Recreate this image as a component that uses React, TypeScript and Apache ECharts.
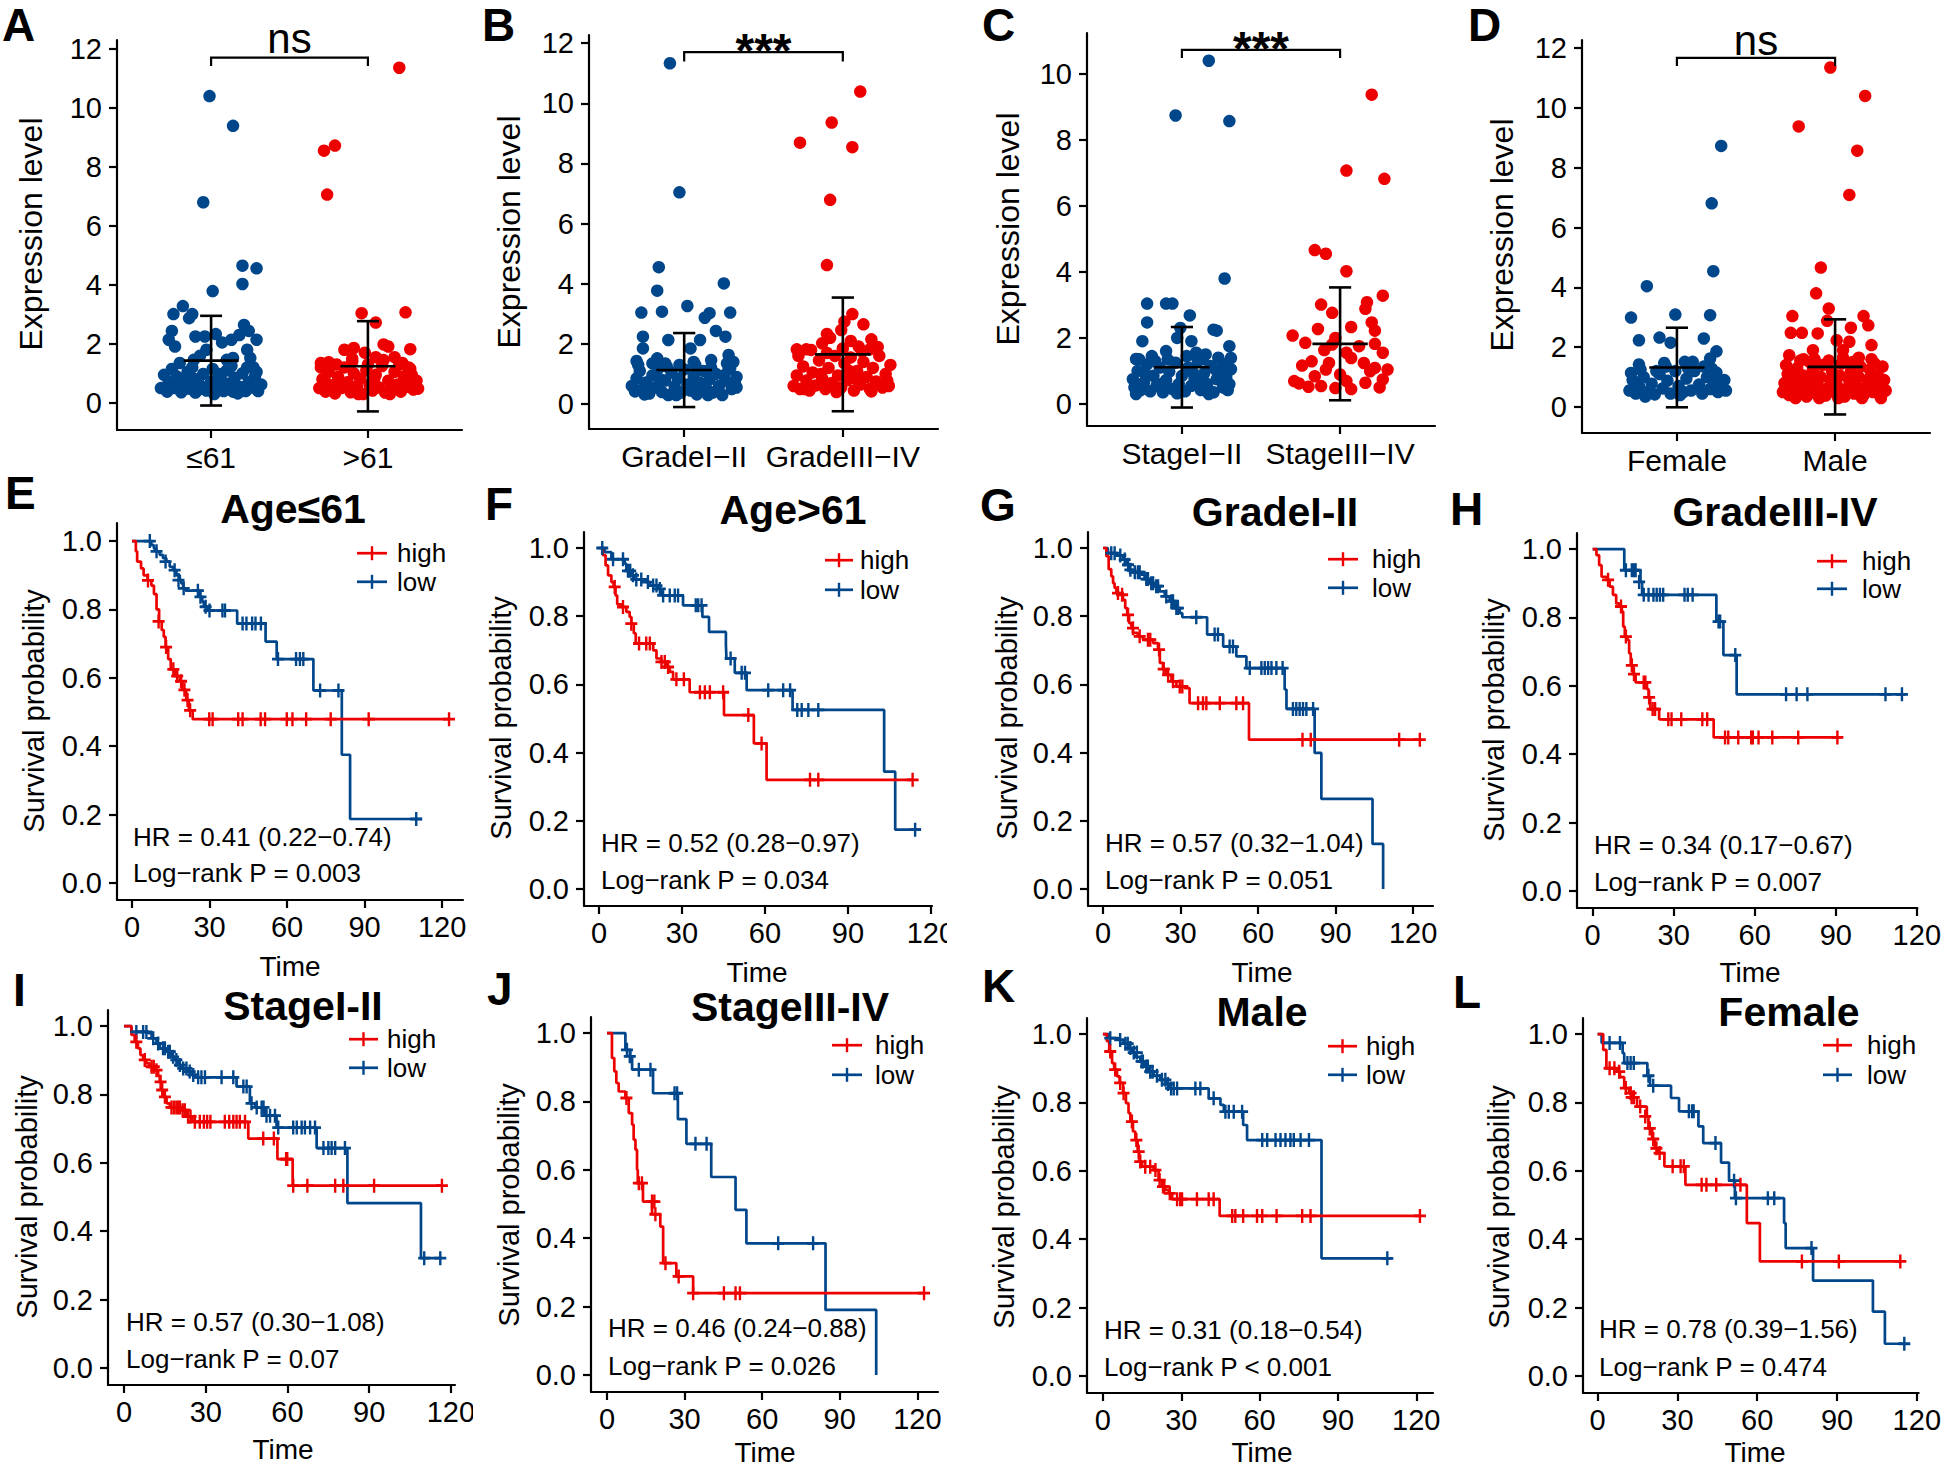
import React, { useEffect, useRef } from "react";
import * as echarts from "echarts";

const FONT = "'Liberation Sans', Arial, Helvetica, sans-serif";
const BLUE = "#00468B";
const RED = "#ED0000";
const BLACK = "#000000";

// ================= DATA: expression scatter panels =================
const CATS_A = ["≤61", ">61"];
const CATS_B = ["GradeI−II", "GradeIII−IV"];
const CATS_C = ["StageI−II", "StageIII−IV"];
const CATS_D = ["Female", "Male"];
const SIG_LABELS = ["ns", "***", "***", "ns"];
const Y_TICKS_A = [0, 2, 4, 6, 8, 10, 12];
const Y_TICKS_C = [0, 2, 4, 6, 8, 10];

// [jitter offset from category centre, expression level]
const A_LOW = [
  [-0.01, 10.4], [0.14, 9.39], [-0.05, 6.8], [0.2, 4.65], [0.29, 4.56], [0.2, 4.03], [0.01, 3.79],
  [-0.18, 3.28], [-0.24, 3.01], [-0.12, 3.01], [-0.14, 2.87], [0.21, 2.64], [0.24, 2.44], [-0.25, 2.44],
  [0.03, 2.33], [-0.1, 2.25], [-0.04, 2.25], [-0.27, 2.14], [0.29, 2.14], [0.13, 2.14], [0.07, 2.05],
  [-0.23, 1.91], [0.23, 1.8], [-0.03, 1.8], [-0.11, 1.46], [-0.2, 1.35], [0.14, 1.52], [0.25, 1.52],
  [0.1, 1.46], [0.18, 2.3], [-0.07, 1.6], [0.27, 1.2],
  [-0.32, 0.5], [-0.28, 0.38], [-0.27, 0.7], [-0.23, 0.5], [-0.22, 0.9], [-0.19, 0.36], [-0.18, 0.68],
  [-0.15, 1.05], [-0.14, 0.48], [-0.11, 0.82], [-0.1, 0.35], [-0.07, 0.6], [-0.05, 0.98], [-0.03, 0.42],
  [0, 0.72], [0.02, 0.3], [0.04, 0.55], [0.06, 0.9], [0.08, 0.4], [0.1, 1.1], [0.11, 0.65], [0.14, 0.38],
  [0.15, 0.85], [0.18, 0.55], [0.2, 1.0], [0.22, 0.4], [0.24, 0.7], [0.26, 0.52], [0.28, 0.9], [0.3, 0.4],
  [0.32, 0.62], [-0.3, 0.95], [-0.25, 1.15], [-0.2, 0.62], [-0.12, 1.2], [-0.08, 0.45], [0.01, 1.15],
  [0.07, 0.72], [0.13, 1.25], [0.17, 0.32], [0.23, 1.2], [0.29, 1.05], [-0.16, 0.88], [0.05, 0.98],
];
const A_HIGH = [
  [0.2, 11.36], [-0.21, 8.72], [-0.28, 8.55], [-0.26, 7.06], [-0.04, 3.04], [0.24, 3.07], [0.05, 2.72],
  [0.27, 1.82], [0.13, 1.91], [-0.09, 1.86], [-0.15, 1.8], [0.1, 1.98], [-0.02, 1.7], [0.17, 1.55],
  [-0.25, 1.38], [-0.3, 1.35], [0.22, 1.35], [0.26, 1.2], [-0.1, 1.5], [0.05, 1.55],
  [-0.31, 0.5], [-0.29, 0.8], [-0.27, 0.38], [-0.25, 1.05], [-0.23, 0.6], [-0.21, 0.32], [-0.19, 0.88],
  [-0.17, 0.5], [-0.15, 1.2], [-0.13, 0.7], [-0.11, 0.36], [-0.09, 1.0], [-0.07, 0.55], [-0.05, 0.82],
  [-0.03, 0.3], [-0.01, 1.1], [0.01, 0.62], [0.03, 0.42], [0.05, 0.95], [0.07, 0.52], [0.09, 1.25],
  [0.11, 0.35], [0.13, 0.75], [0.15, 0.48], [0.17, 1.05], [0.19, 0.62], [0.21, 0.38], [0.23, 0.9],
  [0.25, 0.55], [0.27, 1.15], [0.29, 0.45], [0.31, 0.75], [0.32, 0.48], [-0.3, 1.2], [-0.2, 1.3],
  [-0.1, 1.4], [0, 1.3], [0.1, 1.45], [0.2, 1.3], [0.28, 0.95], [-0.26, 0.65], [-0.06, 0.3],
  [0.14, 0.3], [0.24, 0.7], [-0.16, 0.62], [0.04, 0.78],
];
const B_LOW = [
  [-0.09, 11.33], [-0.03, 7.04], [-0.16, 4.55], [-0.17, 3.77], [0.25, 4.01], [0.02, 3.26], [-0.27, 3.04],
  [-0.14, 3.07], [0.29, 3.04], [0.16, 3.02], [0.13, 2.87], [0.2, 2.43], [-0.26, 2.24], [0.26, 2.24],
  [-0.1, 2.13], [0.1, 2.13], [-0.26, 1.85], [0.04, 1.85], [0.28, 1.63], [-0.3, 1.43], [-0.17, 1.52],
  [0.17, 1.46], [0.29, 1.2], [-0.12, 1.35], [0.06, 1.4],
  [-0.33, 0.6], [-0.31, 0.42], [-0.3, 0.85], [-0.28, 1.1], [-0.26, 0.5], [-0.24, 0.72], [-0.22, 0.35],
  [-0.2, 0.95], [-0.18, 0.55], [-0.16, 1.2], [-0.14, 0.4], [-0.12, 0.78], [-0.1, 0.3], [-0.08, 1.05],
  [-0.06, 0.58], [-0.04, 0.85], [-0.02, 0.38], [0, 1.15], [0.02, 0.65], [0.04, 0.45], [0.06, 0.92],
  [0.08, 0.32], [0.1, 0.7], [0.12, 1.1], [0.14, 0.5], [0.16, 0.82], [0.18, 0.38], [0.2, 1.0], [0.22, 0.6],
  [0.24, 0.3], [0.26, 0.78], [0.28, 1.15], [0.3, 0.5], [0.32, 0.7], [0.33, 0.55], [-0.29, 1.3],
  [-0.2, 1.35], [-0.11, 1.25], [-0.03, 1.3], [0.07, 1.3], [0.17, 1.2], [0.27, 1.35], [0.31, 1.4],
  [-0.25, 0.32], [-0.15, 0.82], [-0.05, 0.3], [0.05, 0.62], [0.15, 0.3], [0.25, 0.95], [0.33, 0.9],
];
const B_HIGH = [
  [0.11, 10.39], [-0.07, 9.36], [-0.27, 8.69], [0.06, 8.54], [-0.08, 6.79], [-0.1, 4.62], [0.06, 2.99],
  [0.01, 2.74], [0.13, 2.65], [-0.01, 2.46], [-0.1, 2.33], [0.18, 2.15], [-0.29, 1.82], [-0.23, 1.82],
  [-0.13, 2.02], [0.1, 1.91], [0.17, 1.82], [-0.08, 2.2], [0.05, 2.1],
  [-0.31, 0.6], [-0.29, 0.95], [-0.27, 0.5], [-0.25, 1.25], [-0.23, 0.78], [-0.21, 0.45], [-0.19, 1.05],
  [-0.17, 0.62], [-0.15, 1.45], [-0.13, 0.85], [-0.11, 0.5], [-0.09, 1.2], [-0.07, 0.7], [-0.05, 1.6],
  [-0.03, 0.95], [-0.01, 0.55], [0.01, 1.35], [0.03, 0.8], [0.05, 1.55], [0.07, 0.45], [0.09, 1.1],
  [0.11, 0.65], [0.13, 1.4], [0.15, 0.9], [0.17, 0.5], [0.19, 1.2], [0.21, 0.75], [0.23, 1.6],
  [0.25, 0.55], [0.27, 1.0], [0.29, 0.6], [0.3, 1.3], [-0.28, 1.6], [-0.2, 1.8], [-0.1, 1.7], [0.0, 1.85],
  [0.12, 1.75], [0.22, 1.9], [-0.24, 0.5], [0.08, 0.85], [-0.04, 0.4], [0.18, 0.42], [0.28, 0.78],
  [-0.14, 1.0], [0.04, 1.1],
];
const C_LOW = [
  [0.17, 10.4], [-0.04, 8.74], [0.3, 8.57], [0.27, 3.8], [-0.22, 3.04], [-0.1, 3.04], [-0.06, 3.04],
  [0.05, 2.68], [-0.22, 2.47], [0.22, 2.22], [-0.01, 2.3], [-0.25, 1.9], [0.06, 1.9], [0.3, 1.75],
  [-0.29, 1.36], [-0.1, 1.6], [0.09, 1.55], [0.31, 1.39], [0.2, 2.25], [-0.03, 2.0], [0.15, 1.5],
  [-0.31, 0.75], [-0.3, 0.5], [-0.28, 1.0], [-0.26, 0.42], [-0.24, 0.65], [-0.22, 1.2], [-0.2, 0.38],
  [-0.18, 0.85], [-0.16, 0.55], [-0.14, 1.1], [-0.12, 0.35], [-0.1, 0.72], [-0.08, 0.98], [-0.06, 0.45],
  [-0.04, 1.25], [-0.02, 0.6], [0, 0.85], [0.02, 0.38], [0.04, 1.1], [0.06, 0.55], [0.08, 0.78],
  [0.1, 1.3], [0.12, 0.42], [0.14, 0.92], [0.16, 0.6], [0.18, 1.15], [0.2, 0.35], [0.22, 0.75],
  [0.24, 1.0], [0.26, 0.5], [0.28, 0.8], [0.3, 0.6], [0.31, 1.05], [-0.27, 1.35], [-0.19, 1.45],
  [-0.09, 1.35], [0.03, 1.45], [0.13, 1.35], [0.23, 1.4], [0.29, 0.42], [-0.23, 0.9], [-0.13, 0.6],
  [-0.03, 0.32], [0.07, 0.95], [0.17, 0.3], [0.27, 1.2], [-0.29, 0.3], [0.11, 0.65], [-0.17, 1.3],
  [0.21, 1.05],
];
const C_HIGH = [
  [0.2, 9.37], [0.04, 7.07], [0.28, 6.82], [-0.16, 4.66], [-0.09, 4.55], [0.04, 4.02], [0.27, 3.28],
  [-0.12, 3.01], [0.17, 3.08], [-0.05, 2.76], [0.16, 2.88], [0.07, 2.33], [-0.14, 2.27], [0.2, 2.47],
  [0.22, 2.22], [-0.3, 2.07], [-0.03, 2.0], [0.22, 1.82], [-0.1, 1.63], [0.27, 1.55], [-0.18, 1.29],
  [-0.24, 1.16], [0.07, 1.39], [0.15, 1.24], [0.3, 1.04], [-0.09, 1.04], [0, 0.89], [0.22, 1.09],
  [-0.29, 0.69], [-0.16, 0.84], [-0.2, 0.52], [-0.12, 0.54], [-0.03, 0.48], [0.07, 0.45], [0.16, 0.64],
  [0.27, 0.74], [0.04, 0.69], [0.19, 0.99], [-0.07, 1.24], [0.04, 1.55], [-0.22, 1.85], [0.12, 1.75],
  [-0.05, 1.8], [0.25, 0.5], [-0.26, 0.62],
];
const D_LOW = [
  [0.28, 8.73], [0.22, 6.81], [0.23, 4.54], [-0.19, 4.04], [-0.29, 2.99], [-0.01, 3.09], [0.21, 3.07],
  [-0.24, 2.23], [-0.11, 2.32], [-0.04, 2.15], [0.17, 2.29], [0.25, 1.86], [0.21, 1.62], [-0.24, 1.42],
  [-0.08, 1.47], [0.05, 1.51], [0.1, 1.51], [-0.29, 1.14], [0.22, 1.28],
  [-0.3, 0.55], [-0.28, 0.9], [-0.26, 0.45], [-0.24, 0.7], [-0.21, 1.0], [-0.19, 0.5], [-0.16, 0.78],
  [-0.14, 0.42], [-0.11, 1.1], [-0.09, 0.62], [-0.06, 0.88], [-0.04, 0.45], [-0.01, 1.2], [0.01, 0.7],
  [0.04, 0.5], [0.06, 0.95], [0.09, 0.55], [0.11, 1.2], [0.14, 0.75], [0.16, 0.45], [0.19, 1.0],
  [0.21, 0.6], [0.24, 0.85], [0.26, 0.5], [0.28, 0.7], [0.31, 0.55], [0.3, 0.9], [-0.23, 1.25],
  [-0.07, 1.35], [0.07, 1.3], [0.17, 1.35], [0.25, 1.15], [-0.13, 1.2], [0.02, 0.4], [-0.2, 0.35],
];
const D_HIGH = [
  [-0.03, 11.35], [0.19, 10.4], [-0.23, 9.38], [0.14, 8.57], [0.09, 7.09], [-0.09, 4.66], [-0.12, 3.8],
  [-0.04, 3.29], [-0.27, 3.04], [0.18, 3.04], [0.21, 2.73], [-0.05, 2.88], [0.1, 2.65], [-0.11, 2.46],
  [-0.28, 2.48], [-0.21, 2.48], [0.23, 2.07], [0.01, 2.23], [0.09, 2.18], [-0.14, 1.9], [-0.29, 1.73],
  [0.05, 1.9], [0.25, 1.45], [-0.2, 1.6], [0.15, 1.65],
  [-0.33, 0.5], [-0.32, 0.8], [-0.3, 1.1], [-0.29, 0.4], [-0.27, 0.65], [-0.26, 0.95], [-0.24, 1.3],
  [-0.23, 0.45], [-0.21, 0.75], [-0.2, 1.05], [-0.18, 0.35], [-0.17, 0.6], [-0.15, 0.9], [-0.14, 1.25],
  [-0.12, 0.45], [-0.11, 0.72], [-0.09, 1.0], [-0.08, 1.4], [-0.06, 0.38], [-0.05, 0.62], [-0.03, 0.9],
  [-0.02, 1.2], [0, 0.48], [0.01, 0.75], [0.03, 1.05], [0.04, 1.45], [0.06, 0.35], [0.07, 0.6],
  [0.09, 0.88], [0.1, 1.2], [0.12, 0.45], [0.13, 0.7], [0.15, 1.0], [0.16, 1.35], [0.18, 0.4],
  [0.19, 0.65], [0.21, 0.92], [0.22, 1.25], [0.24, 0.5], [0.25, 0.78], [0.27, 1.05], [0.28, 0.42],
  [0.3, 0.65], [0.31, 0.9], [0.32, 0.55], [-0.31, 1.4], [-0.22, 1.55], [-0.13, 1.6], [-0.04, 1.55],
  [0.05, 1.65], [0.14, 1.55], [0.23, 1.6], [0.3, 1.35], [-0.25, 0.3], [-0.1, 0.3], [0.02, 0.3],
  [0.17, 0.3], [0.29, 0.3], [-0.16, 1.5], [0.11, 1.5],
];
// mean and standard deviation per group [low group, high group]
const MEAN_A = [1.43, 1.24]; const SD_A = [1.52, 1.53];
const MEAN_B = [1.13, 1.65]; const SD_B = [1.23, 1.89];
const MEAN_C = [1.11, 1.82]; const SD_C = [1.22, 1.71];
const MEAN_D = [1.32, 1.34]; const SD_D = [1.33, 1.59];
// significance bracket: [bracket level, end-drop level, label level]
const SIG_A = [11.7, 11.42, 12.34];
const SIG_B = [11.7, 11.39, 11.77];
const SIG_C = [10.73, 10.48, 10.76];
const SIG_D = [11.67, 11.4, 12.24];

// ================= DATA: Kaplan-Meier panels =================
const KM_TITLES = ["Age≤61", "Age>61", "GradeI-II", "GradeIII-IV", "StageI-II", "StageIII-IV", "Male", "Female"];
const KM_HR = [
  "HR = 0.41 (0.22−0.74)", "HR = 0.52 (0.28−0.97)", "HR = 0.57 (0.32−1.04)", "HR = 0.34 (0.17−0.67)",
  "HR = 0.57 (0.30−1.08)", "HR = 0.46 (0.24−0.88)", "HR = 0.31 (0.18−0.54)", "HR = 0.78 (0.39−1.56)",
];
const KM_P = [
  "Log−rank P = 0.003", "Log−rank P = 0.034", "Log−rank P = 0.051", "Log−rank P = 0.007",
  "Log−rank P = 0.07", "Log−rank P = 0.026", "Log−rank P < 0.001", "Log−rank P = 0.474",
];
const KM_GROUPS = ["high", "low"];
const KM_X_TICKS = [0, 30, 60, 90, 120];
const KM_Y_TICKS = [0, 0.2, 0.4, 0.6, 0.8, 1.0];

const E_HIGH = [[0,1],[1.5,0.97],[2,0.94],[3.5,0.92],[4.5,0.9],[6,0.885],[7.5,0.87],[8.5,0.845],[9.5,0.8],[10.5,0.765],[11.5,0.74],[12.3,0.72],[13,0.69],[14,0.655],[15,0.625],[16.5,0.605],[18.5,0.59],[19.5,0.565],[21,0.535],[22,0.505],[23.5,0.479],[122.7,0.479]];
const E_HIGH_C = [[6.2,0.885],[10.3,0.765],[13.2,0.69],[16,0.625],[17.5,0.605],[19,0.59],[20.3,0.565],[21.5,0.535],[22.5,0.505],[29.9,0.479],[31.2,0.479],[41.1,0.479],[42.8,0.479],[49.8,0.479],[51.5,0.479],[59.9,0.479],[62.1,0.479],[67.4,0.479],[76.9,0.479],[91.6,0.479],[122.7,0.479]];
const E_LOW = [[0,1],[7.5,0.988],[8.5,0.978],[9.5,0.97],[10.7,0.96],[12,0.95],[13.3,0.94],[14.6,0.925],[15.9,0.915],[17.2,0.9],[18.5,0.886],[19.1,0.876],[19.8,0.862],[20.8,0.855],[26.3,0.837],[27.2,0.823],[27.8,0.808],[29.5,0.797],[40.7,0.759],[51.7,0.706],[56,0.655],[70.2,0.563],[81.2,0.375],[84.4,0.187],[112.2,0.187]];
const E_LOW_C = [[6.9,1],[9.5,0.97],[13,0.94],[16.5,0.915],[18,0.886],[20,0.862],[25.5,0.855],[26.5,0.837],[28.5,0.808],[30,0.797],[35,0.797],[36,0.797],[42.8,0.759],[44.3,0.759],[46.5,0.759],[47.8,0.759],[49.9,0.759],[56.5,0.655],[63.5,0.655],[65,0.655],[66.3,0.655],[72.8,0.563],[79.9,0.563],[110,0.187]];

const F_HIGH = [[0,1],[1.4,0.979],[2.4,0.949],[3.3,0.92],[4.5,0.9],[5.3,0.886],[6,0.861],[6.6,0.835],[8.1,0.827],[9.9,0.813],[11.1,0.798],[11.7,0.778],[12.6,0.75],[13.3,0.72],[19.6,0.7],[20.8,0.676],[22.6,0.666],[24.4,0.651],[25.6,0.637],[26.8,0.615],[32.8,0.577],[45.2,0.51],[56,0.427],[60.6,0.32],[113.4,0.32]];
const F_HIGH_C = [[5.7,0.886],[8.7,0.827],[11.7,0.778],[14.5,0.72],[17.1,0.72],[18.4,0.72],[22.6,0.666],[23.8,0.666],[25,0.651],[28,0.615],[30.7,0.615],[36.5,0.577],[38.3,0.577],[40.1,0.577],[44.9,0.577],[54,0.51],[58.8,0.427],[76.3,0.32],[79.3,0.32],[113.4,0.32]];
const F_LOW = [[0,1],[2.1,0.988],[4.5,0.967],[9.3,0.954],[9.9,0.933],[11.7,0.92],[12.6,0.908],[17.1,0.9],[18.4,0.89],[21.4,0.88],[22.6,0.861],[30.4,0.832],[37.4,0.798],[39.8,0.754],[45.9,0.715],[46.1,0.676],[49.1,0.634],[53.4,0.583],[70,0.525],[103.1,0.344],[107.1,0.174],[116.4,0.174]];
const F_LOW_C = [[1.2,1],[5.1,0.967],[8.7,0.967],[10.5,0.933],[11.3,0.933],[12.3,0.92],[13.5,0.908],[15.3,0.908],[17.7,0.9],[19.6,0.89],[20.8,0.89],[22,0.88],[23.2,0.861],[25.6,0.861],[27.4,0.861],[28.6,0.861],[35,0.832],[35.9,0.832],[37.1,0.832],[47.6,0.676],[51.6,0.634],[52.8,0.634],[61.2,0.583],[66.6,0.583],[69.1,0.583],[71.7,0.525],[73.3,0.525],[75.7,0.525],[79.3,0.525],[114.3,0.174]];

const G_HIGH = [[0,1],[1.3,0.976],[2.2,0.938],[3.2,0.917],[3.9,0.897],[4.5,0.883],[5.2,0.868],[6.5,0.863],[7.7,0.848],[8.6,0.824],[9.4,0.804],[10.1,0.78],[11,0.765],[11.6,0.751],[13.5,0.741],[15.5,0.731],[19.4,0.721],[21.3,0.702],[22,0.663],[23.2,0.645],[24.5,0.628],[26.5,0.609],[28.4,0.594],[31.6,0.589],[33.5,0.545],[56.5,0.438],[122.6,0.438]];
const G_HIGH_C = [[5.8,0.868],[7.4,0.863],[9.7,0.804],[11.6,0.765],[14.2,0.741],[17.4,0.731],[18.3,0.731],[21.7,0.702],[23.5,0.645],[25.2,0.628],[27.1,0.609],[29.7,0.594],[30.7,0.594],[36.8,0.545],[38.7,0.545],[40,0.545],[45.2,0.545],[51.6,0.545],[54.2,0.545],[77.2,0.438],[80.4,0.438],[114.6,0.438],[122.6,0.438]];
const G_LOW = [[0,1],[1.9,0.985],[5.2,0.978],[7.7,0.966],[9,0.951],[10.3,0.936],[11.6,0.929],[14.8,0.922],[16.1,0.909],[18.1,0.897],[20,0.888],[21.9,0.873],[23.9,0.858],[25.8,0.844],[27.7,0.824],[29.7,0.809],[30.7,0.797],[40.3,0.746],[46.5,0.711],[51.6,0.682],[55.5,0.648],[70.3,0.585],[71,0.528],[81.9,0.399],[84.5,0.264],[104.3,0.132],[108.4,0]];
const G_LOW_C = [[3.2,0.985],[4.5,0.985],[6.7,0.978],[8.4,0.966],[9.7,0.951],[10.6,0.936],[12.3,0.929],[13.5,0.929],[14.2,0.929],[16.8,0.909],[17.4,0.909],[18.7,0.897],[19.4,0.897],[20.6,0.888],[21.3,0.888],[24.5,0.858],[26.5,0.844],[27.1,0.844],[28.4,0.824],[29,0.824],[36.1,0.797],[43.2,0.746],[44.5,0.746],[49,0.711],[50.3,0.711],[56.8,0.648],[61.3,0.648],[62.6,0.648],[63.9,0.648],[65.2,0.648],[67.1,0.648],[69.5,0.648],[73.5,0.528],[74.8,0.528],[76.1,0.528],[77.4,0.528],[78.7,0.528],[81.3,0.528]];

const H_HIGH = [[0,1],[1.4,0.982],[2.4,0.953],[3.3,0.919],[5.1,0.91],[6.3,0.89],[7.5,0.866],[8.7,0.841],[9.9,0.832],[10.8,0.817],[11.3,0.773],[11.9,0.744],[12.9,0.734],[13.5,0.695],[14.1,0.66],[14.9,0.634],[15.9,0.61],[20.1,0.59],[20.7,0.566],[21.3,0.532],[24.6,0.502],[44.8,0.449],[91.8,0.449]];
const H_HIGH_C = [[5.7,0.91],[10.5,0.832],[12.3,0.744],[14.5,0.66],[15.3,0.634],[18.9,0.61],[19.5,0.61],[20.9,0.566],[22.2,0.532],[23.1,0.532],[28,0.502],[29.2,0.502],[32.8,0.502],[40.6,0.502],[42.4,0.502],[49,0.449],[50.2,0.449],[53.9,0.449],[58.7,0.449],[59.3,0.449],[61.4,0.449],[66.5,0.449],[76.1,0.449],[90.6,0.449]];
const H_LOW = [[0,1],[11.7,0.938],[17.7,0.904],[18.3,0.866],[45.8,0.788],[48.4,0.69],[53.3,0.575],[115.9,0.575]];
const H_LOW_C = [[12.3,0.938],[14.5,0.938],[15.3,0.938],[15.9,0.938],[17.2,0.904],[18.9,0.866],[20.7,0.866],[22.5,0.866],[23.7,0.866],[24.9,0.866],[26.1,0.866],[34,0.866],[35.2,0.866],[37,0.866],[46.6,0.788],[47.2,0.788],[52.8,0.69],[71.6,0.575],[75.5,0.575],[79.5,0.575],[108.4,0.575],[114.5,0.575]];

const I_HIGH = [[0,1],[2.7,0.974],[3.9,0.954],[5.1,0.935],[6,0.915],[7,0.901],[8.2,0.891],[9.4,0.881],[11.3,0.871],[12.5,0.854],[13.1,0.837],[13.7,0.813],[14.3,0.793],[15.6,0.774],[16.8,0.762],[21.1,0.754],[22.9,0.735],[25.1,0.72],[45.6,0.671],[56.3,0.611],[61.9,0.533],[116.7,0.533]];
const I_HIGH_C = [[4.5,0.954],[7.6,0.901],[10.1,0.881],[10.9,0.881],[11.9,0.871],[13.4,0.837],[14,0.813],[15,0.793],[17.4,0.762],[18.3,0.762],[19.2,0.762],[19.9,0.762],[20.5,0.762],[21.5,0.754],[22.3,0.754],[23.5,0.735],[24.4,0.735],[26,0.72],[27.8,0.72],[29.3,0.72],[30.5,0.72],[31.7,0.72],[37,0.72],[38.6,0.72],[40.1,0.72],[41.3,0.72],[42.5,0.72],[44.4,0.72],[51.1,0.671],[55,0.671],[59.5,0.611],[59.9,0.611],[62.1,0.533],[67.3,0.533],[77.5,0.533],[80.5,0.533],[91.8,0.533],[116.7,0.533]];
const I_LOW = [[0,1],[2.7,0.983],[8.8,0.979],[10.1,0.964],[11.9,0.949],[13.1,0.935],[15.6,0.925],[17.4,0.91],[18.6,0.901],[19.9,0.886],[21.1,0.876],[23.5,0.867],[25.1,0.857],[26.6,0.85],[41.3,0.823],[46.2,0.774],[48.1,0.762],[51.7,0.738],[56,0.703],[70.7,0.643],[82,0.482],[109,0.321],[116.7,0.321]];
const I_LOW_C = [[4.5,0.983],[7,0.983],[8.2,0.983],[10.7,0.964],[12.5,0.949],[14.3,0.935],[15,0.935],[16.2,0.925],[16.8,0.925],[18,0.91],[19.2,0.901],[20.5,0.886],[21.7,0.876],[22.9,0.876],[24.1,0.867],[25.4,0.857],[27.2,0.85],[28.4,0.85],[29.7,0.85],[35.8,0.85],[40.1,0.85],[43.8,0.823],[45,0.823],[46.8,0.774],[48.7,0.762],[50.5,0.762],[51.2,0.762],[52.3,0.738],[53.6,0.738],[55.4,0.738],[56.6,0.703],[62.1,0.703],[63.4,0.703],[65.2,0.703],[66.4,0.703],[68.3,0.703],[70.1,0.703],[73.2,0.643],[75,0.643],[76.2,0.643],[77.5,0.643],[81.1,0.643],[110.2,0.321],[116.1,0.321]];

const J_HIGH = [[0,1],[1.9,0.927],[2.8,0.888],[3.6,0.854],[4.5,0.829],[7.1,0.81],[8.4,0.766],[9.7,0.732],[10.3,0.688],[11,0.659],[11.6,0.6],[11.9,0.561],[13.9,0.507],[17.4,0.47],[20.6,0.434],[21.7,0.327],[26.8,0.288],[33.3,0.239],[122.6,0.239]];
const J_HIGH_C = [[7.5,0.81],[12.3,0.561],[13.5,0.561],[17.4,0.507],[18.3,0.507],[18.7,0.47],[22.6,0.327],[27.7,0.288],[33.3,0.239],[45.2,0.239],[49.7,0.239],[51.4,0.239],[122.6,0.239]];
const J_LOW = [[0,1],[7.1,0.951],[9,0.932],[9.7,0.893],[17.8,0.824],[27.4,0.748],[30.7,0.676],[40.3,0.579],[49.7,0.483],[53.9,0.385],[84.5,0.19],[104.1,0]];
const J_LOW_C = [[7.7,0.951],[8.8,0.932],[12.3,0.893],[16.8,0.893],[26.1,0.824],[27.1,0.824],[34.2,0.676],[38.5,0.676],[66.2,0.385],[79.7,0.385]];

const K_HIGH = [[0,1],[1.5,0.979],[2.4,0.949],[3.5,0.915],[4.3,0.896],[5.4,0.876],[6.4,0.857],[7.7,0.827],[8.8,0.798],[9.8,0.769],[10.5,0.744],[11.5,0.715],[12.4,0.69],[13.3,0.656],[13.9,0.627],[15,0.612],[19.4,0.602],[21.3,0.573],[22.6,0.554],[23.9,0.544],[25.2,0.534],[26.5,0.517],[44.7,0.468],[121.4,0.468]];
const K_HIGH_C = [[2.8,0.949],[4.7,0.896],[6.6,0.857],[7.9,0.827],[11.1,0.744],[12.8,0.69],[13.7,0.656],[14.3,0.627],[16.2,0.612],[18.1,0.612],[20.1,0.602],[21.7,0.573],[23,0.554],[23.5,0.554],[25.6,0.534],[28.4,0.517],[29.6,0.517],[30.3,0.517],[36,0.517],[40.5,0.517],[42.4,0.517],[49.5,0.468],[50.7,0.468],[53.7,0.468],[59,0.468],[61,0.468],[66.5,0.468],[76.3,0.468],[79.5,0.468],[121.4,0.468]];
const K_LOW = [[0,1],[2.2,0.988],[6,0.983],[7.9,0.972],[9.8,0.959],[11.1,0.946],[12.4,0.933],[14.3,0.92],[16.2,0.905],[17.5,0.89],[19.4,0.878],[22,0.866],[24.5,0.854],[25.8,0.841],[40.5,0.812],[45,0.793],[46.3,0.773],[53.7,0.734],[55.2,0.69],[83.7,0.344],[110.8,0.344]];
const K_LOW_C = [[2.8,0.988],[6.6,0.983],[8.6,0.972],[9.5,0.972],[10.5,0.959],[11.8,0.946],[13,0.946],[14.8,0.92],[15.3,0.92],[16.6,0.905],[17.2,0.905],[18.1,0.89],[19,0.89],[20.7,0.878],[22.6,0.866],[23.9,0.866],[24.9,0.854],[26.1,0.841],[27.1,0.841],[28.4,0.841],[35.4,0.841],[37.3,0.841],[42.4,0.812],[46.9,0.773],[48.2,0.773],[50.1,0.773],[53.3,0.773],[61,0.69],[62.9,0.69],[66.1,0.69],[68,0.69],[69.9,0.69],[71.8,0.69],[73.1,0.69],[75.7,0.69],[78.9,0.69],[108.9,0.344]];

const L_HIGH = [[0,1],[2.1,0.954],[3.3,0.9],[7.5,0.89],[8.4,0.874],[10,0.842],[11.8,0.827],[13,0.815],[14.8,0.788],[18.5,0.759],[19.1,0.724],[20.5,0.693],[21.5,0.666],[22.7,0.652],[25.1,0.613],[33,0.559],[56.1,0.447],[61,0.335],[113.8,0.335]];
const L_HIGH_C = [[4.5,0.9],[6.3,0.9],[8.1,0.89],[10.6,0.842],[12.4,0.827],[12.8,0.815],[13.6,0.815],[16,0.788],[17.9,0.759],[19.6,0.724],[20.9,0.693],[22.1,0.666],[23.3,0.652],[28.2,0.613],[31.2,0.613],[32.4,0.613],[39.1,0.559],[40.9,0.559],[44.6,0.559],[53.7,0.559],[76.8,0.335],[90.7,0.335],[113.8,0.335]];
const L_LOW = [[0,1],[1.5,0.974],[9.4,0.944],[10,0.915],[18.7,0.878],[19.7,0.849],[27.6,0.813],[30.6,0.774],[37.9,0.73],[39.7,0.681],[46.4,0.624],[49.4,0.571],[51.6,0.52],[70.1,0.447],[70.7,0.374],[81,0.279],[103.5,0.188],[108,0.094],[115.6,0.094]];
const L_LOW_C = [[4.5,0.974],[8.4,0.974],[11.2,0.915],[12.4,0.915],[13.6,0.915],[19.1,0.878],[20.9,0.849],[34.3,0.774],[35.5,0.774],[36.1,0.774],[44.3,0.681],[51.3,0.571],[52,0.52],[64,0.52],[66.4,0.52],[80.4,0.374],[115.3,0.094]];

// ================= LAYOUT (pixels) =================
const SCATTER_PANELS = [
  { letter: "A", cats: CATS_A, low: A_LOW, high: A_HIGH, mean: MEAN_A, sd: SD_A, sig: SIG_A, ticks: Y_TICKS_A,
    l: 117, t: 40, r: 462, b: 430, ymin: -0.92, ymax: 12.3, lx: 2, ly: 25, tx: 31, ty: 234 },
  { letter: "B", cats: CATS_B, low: B_LOW, high: B_HIGH, mean: MEAN_B, sd: SD_B, sig: SIG_B, ticks: Y_TICKS_A,
    l: 589, t: 35, r: 938, b: 429, ymin: -0.83, ymax: 12.27, lx: 482, ly: 25, tx: 509, ty: 232 },
  { letter: "C", cats: CATS_C, low: C_LOW, high: C_HIGH, mean: MEAN_C, sd: SD_C, sig: SIG_C, ticks: Y_TICKS_C,
    l: 1087, t: 33, r: 1435, b: 426, ymin: -0.67, ymax: 11.24, lx: 982, ly: 25, tx: 1008, ty: 229 },
  { letter: "D", cats: CATS_D, low: D_LOW, high: D_HIGH, mean: MEAN_D, sd: SD_D, sig: SIG_D, ticks: Y_TICKS_A,
    l: 1582, t: 40, r: 1930, b: 433, ymin: -0.87, ymax: 12.27, lx: 1468, ly: 25, tx: 1502, ty: 235 },
];

const KM_PANELS = [
  { letter: "E", high: E_HIGH, highC: E_HIGH_C, low: E_LOW, lowC: E_LOW_C, l: 117, t: 523, r: 463, b: 900, xmin: -5.8, xmax: 128.1, ymax: 1.053,
    lx: 5, ly: 493, ttl: [293, 509], leg: [357, 387, 555, 580, 397], hr: [133, 837, 873], yt: [34, 711], time: [290, 966] },
  { letter: "F", high: F_HIGH, highC: F_HIGH_C, low: F_LOW, lowC: F_LOW_C, l: 584, t: 532, r: 932, b: 906, xmin: -5.4, xmax: 120.4, ymax: 1.047,
    lx: 485, ly: 504, ttl: [793, 510], leg: [825, 853, 562, 588, 860], hr: [601, 843, 880], yt: [501, 718], time: [757, 972], clip: [947, 908, 22, 40] },
  { letter: "G", high: G_HIGH, highC: G_HIGH_C, low: G_LOW, lowC: G_LOW_C, l: 1088, t: 532, r: 1433, b: 906, xmin: -5.8, xmax: 127.7, ymax: 1.047,
    lx: 980, ly: 505, ttl: [1275, 512], leg: [1328, 1358, 561, 586, 1372], hr: [1105, 843, 880], yt: [1007, 718], time: [1262, 972] },
  { letter: "H", high: H_HIGH, highC: H_HIGH_C, low: H_LOW, lowC: H_LOW_C, l: 1577, t: 533, r: 1925, b: 908, xmin: -5.8, xmax: 120.2, ymax: 1.047,
    lx: 1450, ly: 509, ttl: [1775, 512], leg: [1817, 1847, 563, 587, 1862], hr: [1594, 845, 882], yt: [1494, 720], time: [1750, 972] },
  { letter: "I", high: I_HIGH, highC: I_HIGH_C, low: I_LOW, lowC: I_LOW_C, l: 108, t: 1010, r: 455, b: 1385, xmin: -5.9, xmax: 121.5, ymax: 1.047,
    lx: 13, ly: 990, ttl: [303, 1006], leg: [349, 378, 1041, 1066, 387], hr: [126, 1322, 1359], yt: [27, 1197], time: [283, 1449], clip: [473, 1388, 22, 40] },
  { letter: "J", high: J_HIGH, highC: J_HIGH_C, low: J_LOW, lowC: J_LOW_C, l: 591, t: 1017, r: 938, b: 1392, xmin: -6.2, xmax: 128, ymax: 1.047,
    lx: 487, ly: 989, ttl: [790, 1007], leg: [832, 862, 1047, 1073, 875], hr: [608, 1328, 1366], yt: [509, 1205], time: [765, 1452] },
  { letter: "K", high: K_HIGH, highC: K_HIGH_C, low: K_LOW, lowC: K_LOW_C, l: 1087, t: 1018, r: 1433, b: 1393, xmin: -6.1, xmax: 126.4, ymax: 1.047,
    lx: 982, ly: 986, ttl: [1262, 1012], leg: [1328, 1357, 1048, 1073, 1366], hr: [1104, 1330, 1367], yt: [1004, 1207], time: [1262, 1452] },
  { letter: "L", high: L_HIGH, highC: L_HIGH_C, low: L_LOW, lowC: L_LOW_C, l: 1583, t: 1018, r: 1928, b: 1393, xmin: -5.5, xmax: 120.7, ymax: 1.047,
    lx: 1453, ly: 992, ttl: [1789, 1012], leg: [1823, 1852, 1047, 1073, 1867], hr: [1599, 1329, 1367], yt: [1499, 1207], time: [1755, 1452] },
];

const PLUS = "path://M4,0h2v4h4v2h-4v4h-2v-4h-4v-2h4z";
const AXIS_W = 2.2;
const TICK_FS = 29;
const LEGEND_FS = 26;
const LEGEND_SPREAD = 1.8;

function txt(x: number, y: number, text: string, size: number, opts: any = {}) {
  const align = opts.align || "center";
  const valign = opts.valign || "middle";
  const style: any = {
    text,
    fill: BLACK,
    fontSize: size,
    fontFamily: FONT,
    fontWeight: opts.bold ? "bold" : "normal",
    textAlign: align,
    textVerticalAlign: valign,
    align,
    verticalAlign: valign,
  };
  return { type: "text", x, y, rotation: opts.rotation || 0, z: 50, style };
}

function buildOption() {
  const grid: any[] = [];
  const xAxis: any[] = [];
  const yAxis: any[] = [];
  const series: any[] = [];
  const elements: any[] = [];
  const lineStyle = { color: BLACK, width: AXIS_W };
  let gi = 0;

  SCATTER_PANELS.forEach((P) => {
    const i = gi++;
    grid.push({ left: P.l, top: P.t, width: P.r - P.l, height: P.b - P.t, containLabel: false });
    xAxis.push({
      type: "value", gridIndex: i, min: 0.4, max: 2.6,
      axisLine: { show: true, onZero: false, lineStyle },
      axisTick: { show: true, customValues: [1, 2], length: 8, lineStyle },
      axisLabel: { show: true, customValues: [1, 2], margin: 12, color: BLACK, fontSize: 30, fontFamily: FONT,
        formatter: (v: number) => P.cats[Math.round(v) - 1] || "" },
      splitLine: { show: false },
    });
    yAxis.push({
      type: "value", gridIndex: i, min: P.ymin, max: P.ymax,
      axisLine: { show: true, onZero: false, lineStyle },
      axisTick: { show: true, customValues: P.ticks, length: 8, lineStyle },
      axisLabel: { show: true, customValues: P.ticks, margin: 15, color: BLACK, fontSize: TICK_FS, fontFamily: FONT },
      splitLine: { show: false },
    });
    series.push({
      type: "scatter", xAxisIndex: i, yAxisIndex: i, symbolSize: 12.5, z: 2,
      itemStyle: { color: BLUE, opacity: 1 },
      data: P.low.map((d) => [1 + d[0], d[1]]),
    });
    series.push({
      type: "scatter", xAxisIndex: i, yAxisIndex: i, symbolSize: 12.5, z: 2,
      itemStyle: { color: RED, opacity: 1 },
      data: P.high.map((d) => [2 + d[0], d[1]]),
    });
    series.push({
      type: "custom", xAxisIndex: i, yAxisIndex: i, z: 5,
      data: [[1, P.mean[0], P.sd[0]], [2, P.mean[1], P.sd[1]]],
      renderItem: (params: any, api: any) => {
        const x = api.value(0), m = api.value(1), s = api.value(2);
        const c = api.coord([x, m]);
        const top = api.coord([x, m + s]);
        const bot = api.coord([x, m - s]);
        const hw = api.size([0.175, 0])[0];
        const cw = api.size([0.07, 0])[0];
        const st = { stroke: BLACK, lineWidth: 2.6 };
        return {
          type: "group",
          children: [
            { type: "line", shape: { x1: c[0] - hw, y1: c[1], x2: c[0] + hw, y2: c[1] }, style: st },
            { type: "line", shape: { x1: top[0], y1: top[1], x2: bot[0], y2: bot[1] }, style: st },
            { type: "line", shape: { x1: top[0] - cw, y1: top[1], x2: top[0] + cw, y2: top[1] }, style: st },
            { type: "line", shape: { x1: bot[0] - cw, y1: bot[1], x2: bot[0] + cw, y2: bot[1] }, style: st },
          ],
        };
      },
    });
    const label = SIG_LABELS[i];
    series.push({
      type: "custom", xAxisIndex: i, yAxisIndex: i, z: 5,
      data: [[1, 2, P.sig[0], P.sig[1], P.sig[2]]],
      renderItem: (params: any, api: any) => {
        const x1 = api.value(0), x2 = api.value(1), yb = api.value(2), yd = api.value(3), yl = api.value(4);
        const p1 = api.coord([x1, yd]), p2 = api.coord([x1, yb]), p3 = api.coord([x2, yb]), p4 = api.coord([x2, yd]);
        const pl = api.coord([(x1 + x2) / 2, yl]);
        const isStar = label.indexOf("*") >= 0;
        return {
          type: "group",
          children: [
            { type: "polyline", shape: { points: [p1, p2, p3, p4] }, style: { stroke: BLACK, lineWidth: 2.2, fill: null } },
            { type: "text", x: pl[0], y: pl[1], style: {
              text: label, fill: BLACK, fontSize: isStar ? 48 : 42, fontWeight: isStar ? "bold" : "normal", fontFamily: FONT,
              textAlign: "center", textVerticalAlign: "middle", align: "center", verticalAlign: "middle" } },
          ],
        };
      },
    });
    elements.push(txt(P.lx, P.ly, P.letter, 46, { bold: true, align: "left" }));
    elements.push(txt(P.tx, P.ty, "Expression level", 32, { rotation: Math.PI / 2 }));
  });

  KM_PANELS.forEach((P, k) => {
    const i = gi++;
    grid.push({ left: P.l, top: P.t, width: P.r - P.l, height: P.b - P.t, containLabel: false });
    xAxis.push({
      type: "value", gridIndex: i, min: P.xmin, max: P.xmax,
      axisLine: { show: true, onZero: false, lineStyle },
      axisTick: { show: true, customValues: KM_X_TICKS, length: 8, lineStyle },
      axisLabel: { show: true, customValues: KM_X_TICKS, margin: 12, color: BLACK, fontSize: TICK_FS, fontFamily: FONT },
      splitLine: { show: false },
    });
    yAxis.push({
      type: "value", gridIndex: i, min: -0.05, max: P.ymax,
      axisLine: { show: true, onZero: false, lineStyle },
      axisTick: { show: true, customValues: KM_Y_TICKS, length: 8, lineStyle },
      axisLabel: { show: true, customValues: KM_Y_TICKS, margin: 15, color: BLACK, fontSize: TICK_FS, fontFamily: FONT,
        formatter: (v: number) => v.toFixed(1) },
      splitLine: { show: false },
    });
    const curves: any[] = [
      [P.low, P.lowC, BLUE],
      [P.high, P.highC, RED],
    ];
    curves.forEach(([steps, cens, color]) => {
      series.push({
        type: "line", xAxisIndex: i, yAxisIndex: i, step: "end", symbol: "none", showSymbol: false, z: 3,
        lineStyle: { color, width: 2.7 }, itemStyle: { color }, data: steps,
      });
      series.push({
        type: "scatter", xAxisIndex: i, yAxisIndex: i, symbol: PLUS, symbolSize: [12, 14], z: 4,
        itemStyle: { color, opacity: 1 }, data: cens,
      });
    });
    // legend keys and labels
    const [x1, x2, yh0, yl0, tx] = P.leg;
    const yh = yh0 - LEGEND_SPREAD, yl = yl0 + LEGEND_SPREAD;
    const mid = (x1 + x2) / 2;
    [[yh, RED, KM_GROUPS[0]], [yl, BLUE, KM_GROUPS[1]]].forEach(([yy, color, name]: any) => {
      elements.push({ type: "line", z: 50, shape: { x1, y1: yy, x2, y2: yy }, style: { stroke: color, lineWidth: 2.7 } });
      elements.push({ type: "line", z: 50, shape: { x1: mid, y1: yy - 7, x2: mid, y2: yy + 7 }, style: { stroke: color, lineWidth: 2.4 } });
      elements.push(txt(tx, yy, name, LEGEND_FS, { align: "left" }));
    });
    elements.push(txt(P.ttl[0], P.ttl[1], KM_TITLES[k], 41, { bold: true }));
    elements.push(txt(P.hr[0], P.hr[1], KM_HR[k], 26, { align: "left" }));
    elements.push(txt(P.hr[0], P.hr[2], KM_P[k], 26, { align: "left" }));
    elements.push(txt(P.yt[0], P.yt[1], "Survival probability", 29, { rotation: Math.PI / 2 }));
    elements.push(txt(P.time[0], P.time[1], "Time", 28));
    elements.push(txt(P.lx, P.ly, P.letter, 46, { bold: true, align: "left" }));
    if ((P as any).clip) {
      const c = (P as any).clip;
      elements.push({ type: "rect", z: 100, shape: { x: c[0], y: c[1], width: c[2], height: c[3] }, style: { fill: "#ffffff" } });
    }
  });

  return {
    animation: false,
    backgroundColor: "#ffffff",
    textStyle: { fontFamily: FONT },
    grid, xAxis, yAxis, series,
    graphic: { elements },
  };
}

export default function App() {
  const ref = useRef<HTMLDivElement>(null);
  useEffect(() => {
    if (!ref.current) return;
    const chart = echarts.init(ref.current, undefined, { renderer: "svg" });
    chart.setOption(buildOption() as any);
    return () => chart.dispose();
  }, []);
  return (
    <div
      ref={ref}
      style={{ position: "absolute", left: 0, top: 0, width: 1944, height: 1470, background: "#fff" }}
    />
  );
}
